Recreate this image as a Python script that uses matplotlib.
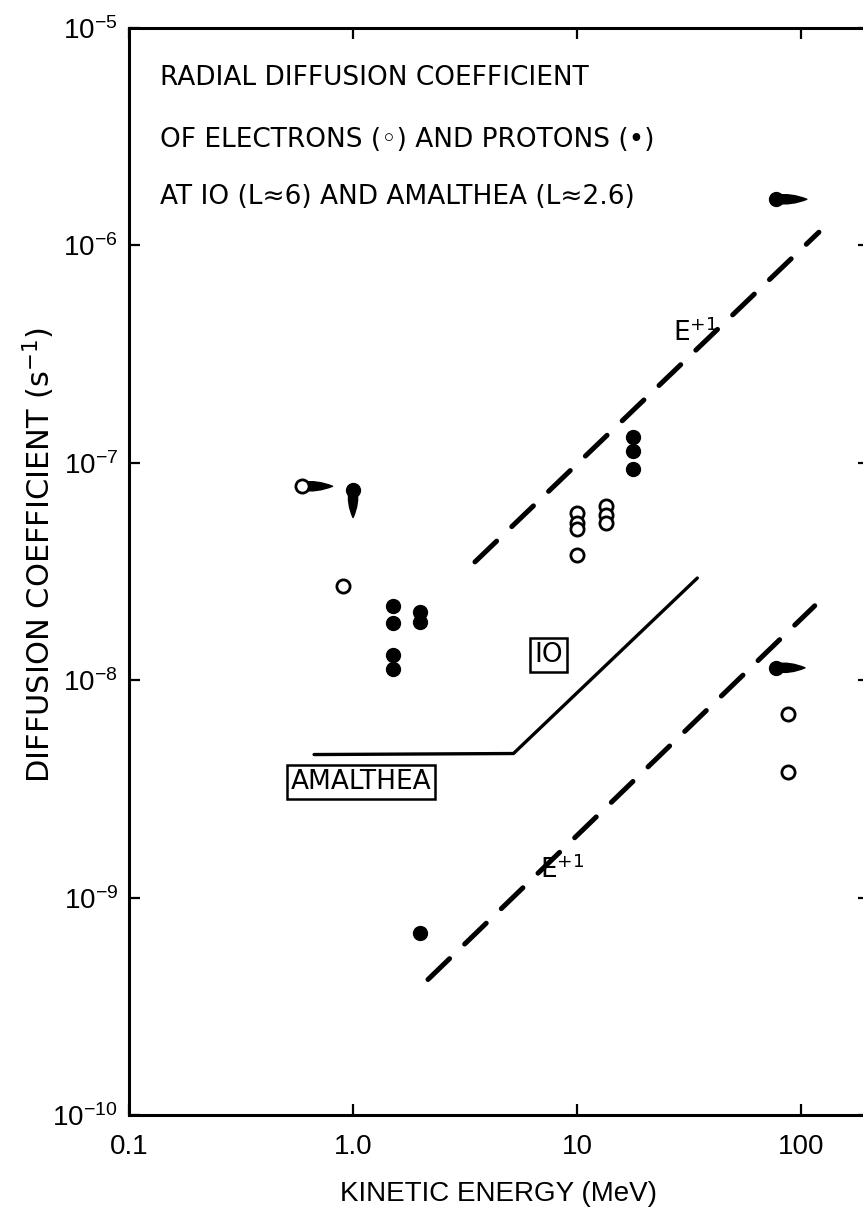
import matplotlib
matplotlib.use("Agg")
import matplotlib.pyplot as plt
from matplotlib.ticker import FixedLocator, FixedFormatter, LogFormatterSciNotation, NullLocator

plt.rcParams['font.family'] = ['DejaVu Sans']
plt.rcParams['mathtext.default'] = 'regular'
NARROW = ['Liberation Sans', 'DejaVu Sans']

# Electrons (open circles): kinetic energy (MeV) and diffusion coefficient (s^-1)
electron_energy = [0.59, 0.90, 10, 10, 10, 10, 13.5, 13.5, 13.5, 87.5, 87.5]
electron_D = [7.8e-8, 2.7e-8, 5.9e-8, 5.3e-8, 4.96e-8, 3.77e-8,
              6.3e-8, 5.75e-8, 5.3e-8, 7.0e-9, 3.8e-9]

# Protons (filled circles)
proton_energy = [1.0, 1.5, 1.5, 1.5, 1.5, 2.0, 2.0, 17.7, 17.7, 17.7, 77, 77, 2.0]
proton_D = [7.5e-8, 2.2e-8, 1.83e-8, 1.3e-8, 1.13e-8, 2.06e-8, 1.85e-8,
            1.31e-7, 1.13e-7, 9.4e-8, 1.63e-6, 1.14e-8, 6.9e-10]

# Limit arrows: start point and arrow tip
limit_start_E = [0.59, 1.0, 77, 77]
limit_start_D = [7.8e-8, 7.5e-8, 1.63e-6, 1.14e-8]
limit_tip_E = [0.81, 1.0, 106, 104]
limit_tip_D = [7.8e-8, 5.6e-8, 1.63e-6, 1.14e-8]

# E^+1 scaling lines (Io above, Amalthea below)
io_line_E = [3.5, 120]
io_line_D = [3.5e-8, 1.15e-6]
am_line_E = [2.16, 115]
am_line_D = [4.2e-10, 2.2e-8]

# Boundary curve between the Io and Amalthea regimes
boundary_E = [0.67, 5.2, 34.4]
boundary_D = [4.55e-9, 4.6e-9, 2.95e-8]

x_ticks = [0.1, 1.0, 10, 100]
x_tick_labels = ["0.1", "1.0", "10", "100"]
y_ticks = [1e-10, 1e-9, 1e-8, 1e-7, 1e-6, 1e-5]

fig = plt.figure(figsize=(8.63, 12.25), dpi=100)
ax = fig.add_axes([129 / 863, (1225 - 1115) / 1225, (868.6 - 129) / 863, 1087 / 1225])
ax.set_xscale('log')
ax.set_yscale('log')
ax.set_xlim(0.1, 200)
ax.set_ylim(1e-10, 1e-5)

# scaling lines
dash = (0, (6, 4.2))
ax.plot(io_line_E, io_line_D, color='k', lw=3.6, linestyle=dash, dash_capstyle='round')
ax.plot(am_line_E, am_line_D, color='k', lw=3.6, linestyle=dash, dash_capstyle='round')
ax.plot(boundary_E, boundary_D, color='k', lw=2.4, solid_capstyle='round')

# limit arrows
for e0, d0, e1, d1 in zip(limit_start_E, limit_start_D, limit_tip_E, limit_tip_D):
    ax.annotate("", xy=(e1, d1), xytext=(e0, d0),
                arrowprops=dict(arrowstyle="wedge,tail_width=0.6,shrink_factor=1.0",
                                fc='k', ec='k', lw=1.0, mutation_scale=10,
                                shrinkA=0, shrinkB=0), zorder=2)

ax.plot(electron_energy, electron_D, linestyle='none', marker='o', ms=9.5,
        mfc='white', mec='k', mew=2.0, zorder=3)
ax.plot(proton_energy, proton_D, linestyle='none', marker='o', ms=10,
        mfc='k', mec='k', zorder=3)

# text annotations
title_lines = ["RADIAL DIFFUSION COEFFICIENT",
               "OF ELECTRONS (◦) AND PROTONS (•)",
               "AT IO (L≈6) AND AMALTHEA (L≈2.6)"]
for txt, yy in zip(title_lines, [0.9476, 0.8905, 0.838]):
    ax.text(0.042, yy, txt, transform=ax.transAxes, fontsize=19,
            ha='left', va='baseline')

box = dict(boxstyle='square,pad=0.15', fc='white', ec='k', lw=1.8)
ax.text(7.46, 1.3e-8, "IO", fontsize=19, ha='center', va='center', bbox=box)
ax.text(1.085, 3.4e-9, "AMALTHEA", fontsize=19, ha='center', va='center', bbox=box)
ax.text(33.6, 3.95e-7, "E$^{+1}$", fontsize=19, ha='center', va='center')
ax.text(8.6, 1.34e-9, "E$^{+1}$", fontsize=19, ha='center', va='center')

# axes styling
for s in ax.spines.values():
    s.set_linewidth(2.2)
ax.xaxis.set_major_locator(FixedLocator(x_ticks))
ax.xaxis.set_major_formatter(FixedFormatter(x_tick_labels))
ax.xaxis.set_minor_locator(NullLocator())
ax.yaxis.set_major_locator(FixedLocator(y_ticks))
ax.yaxis.set_major_formatter(LogFormatterSciNotation())
ax.yaxis.set_minor_locator(NullLocator())
ax.tick_params(which='major', direction='in', length=8, width=1.6,
               top=True, right=True, labelsize=20)
ax.tick_params(axis='x', pad=14)
ax.tick_params(axis='y', pad=8)
for lab in ax.get_xticklabels() + ax.get_yticklabels():
    lab.set_family(NARROW)

ax.set_xlabel("KINETIC ENERGY (MeV)", fontsize=20, family=NARROW)
ax.xaxis.set_label_coords(0.5, -0.061)
ax.set_ylabel("DIFFUSION COEFFICIENT (s$^{-1}$)", fontsize=22)
ax.yaxis.set_label_coords(-0.098, 0.515)

fig.savefig("out.png", dpi=100)
